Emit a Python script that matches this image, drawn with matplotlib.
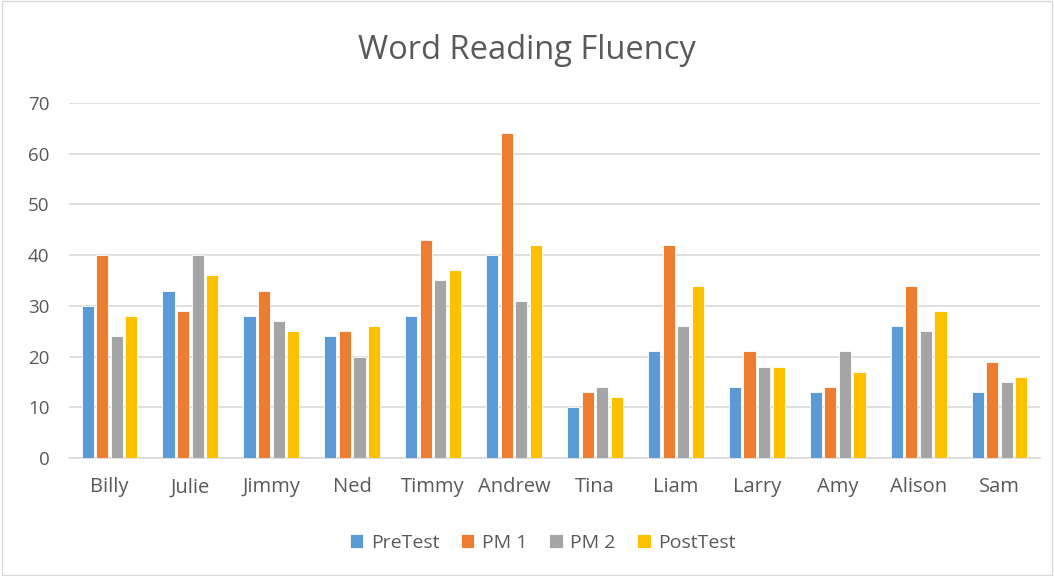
import matplotlib
matplotlib.use("Agg")
import matplotlib.pyplot as plt
import numpy as np
from matplotlib.patches import Rectangle

students = ["Billy", "Julie", "Jimmy", "Ned", "Timmy", "Andrew", "Tina", "Liam", "Larry", "Amy", "Alison", "Sam"]
pretest = [30, 33, 28, 24, 28, 40, 10, 21, 14, 13, 26, 13]
pm1 = [40, 29, 33, 25, 43, 64, 13, 42, 21, 14, 34, 19]
pm2 = [24, 40, 27, 20, 35, 31, 14, 26, 18, 21, 25, 15]
posttest = [28, 36, 25, 26, 37, 42, 12, 34, 18, 17, 29, 16]
series_names = ["PreTest", "PM 1", "PM 2", "PostTest"]
colors = ["#5B9BD5", "#ED7D31", "#A5A5A5", "#FFC000"]

plt.rcParams['font.family'] = ['Open Sans', 'DejaVu Sans']

fig = plt.figure(figsize=(10.54, 5.76), dpi=100)
ax = fig.add_axes([0.0655, 0.2049, 0.9212, 0.6163])

x = np.arange(len(students))
step = 0.18
width = 0.15
for i, (vals, name, c) in enumerate(zip([pretest, pm1, pm2, posttest], series_names, colors)):
    ax.bar(x + (i - 1.5) * step, vals, width=width, color=c, label=name, zorder=3,
           edgecolor='white', linewidth=0.6)

ax.set_xlim(-0.5, len(students) - 0.5)
ax.set_ylim(0, 70)
ax.set_yticks(range(0, 71, 10))
ax.set_xticks(x)
ax.set_xticklabels(students)
ax.grid(axis='y', color='#D9D9D9', linewidth=1.2, zorder=0)
for s in ['top', 'right', 'left']:
    ax.spines[s].set_visible(False)
ax.spines['bottom'].set_color('#D9D9D9')
ax.spines['bottom'].set_linewidth(1.2)
ax.tick_params(axis='x', length=0, labelsize=14.5, colors='#595959', pad=14)
ax.tick_params(axis='y', length=0, labelsize=13.5, colors='#595959', pad=14)

fig.text(0.5, 0.912, "Word Reading Fluency", ha='center', va='center', fontsize=23.5, color='#595959')

leg = fig.legend(loc='center', bbox_to_anchor=(0.515, 0.058), ncol=4, frameon=False,
                 fontsize=14, handlelength=0.7, handleheight=0.7, columnspacing=1.1, handletextpad=0.4)
for t in leg.get_texts():
    t.set_color('#595959')

fig.patches.append(Rectangle((0.002, 0.002), 0.996, 0.996, transform=fig.transFigure,
                             fill=False, edgecolor='#D9D9D9', linewidth=1))

fig.savefig("out.png", dpi=100)
